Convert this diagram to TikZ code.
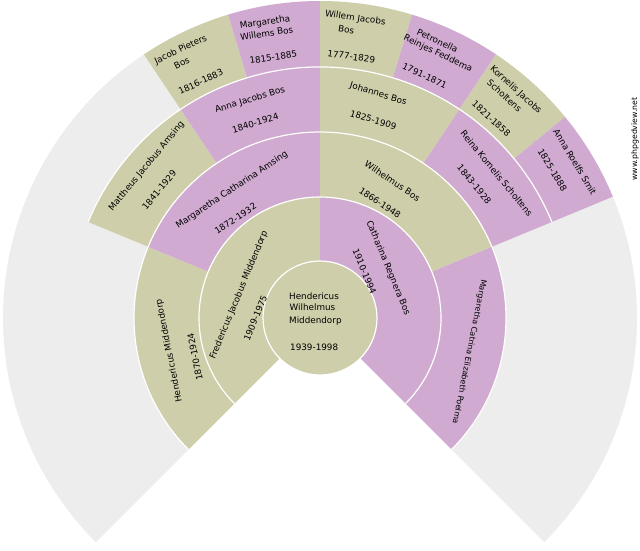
\documentclass[tikz,border=0pt]{standalone}
\usepackage{fontspec}
\setmainfont{DejaVu Sans}
\definecolor{fanolive}{RGB}{206,206,170}
\definecolor{fanpurple}{RGB}{208,170,208}
\definecolor{fangray}{RGB}{237,237,237}
\newcommand\fanseg[5]{%
  \fill[#5] (#3:#1pt) -- (#3:#2pt) arc[start angle=#3, end angle=#4, radius=#2pt]
    -- (#4:#1pt) arc[start angle=#4, end angle=#3, radius=#1pt] -- cycle;}
\tikzset{
  lbl/.style={inner sep=0pt, font=\fontsize{8.8}{10}\selectfont},
  lblsmall/.style={inner sep=0pt, font=\fontsize{7.9}{9}\selectfont},
  cline/.style={inner sep=0pt, anchor=base west, font=\fontsize{8.8}{10}\selectfont},
  sep/.style={draw=white, line width=1.2pt},
  wm/.style={inner sep=0pt, font=\fontsize{7.8}{9}\selectfont, rotate=90}
}
\begin{document}
\begin{tikzpicture}[x=1pt,y=1pt]
\useasboundingbox (0,0) rectangle (640,550);
\fill[white] (0,0) rectangle (640,550);
\begin{scope}[shift={(320,232)}]
  % gray (unknown ancestors)
  \fanseg{186}{317}{157.5}{225}{fangray}
  \fanseg{251}{317}{123.75}{157.5}{fangray}
  \fanseg{186}{317}{-45}{22.5}{fangray}
  % generation 4
  \fanseg{251}{317}{106.875}{123.75}{fanolive}
  \fanseg{251}{317}{90}{106.875}{fanpurple}
  \fanseg{251}{317}{73.125}{90}{fanolive}
  \fanseg{251}{317}{56.25}{73.125}{fanpurple}
  \fanseg{251}{317}{39.375}{56.25}{fanolive}
  \fanseg{251}{317}{22.5}{39.375}{fanpurple}
  % generation 3
  \fanseg{186}{251}{123.75}{157.5}{fanolive}
  \fanseg{186}{251}{90}{123.75}{fanpurple}
  \fanseg{186}{251}{56.25}{90}{fanolive}
  \fanseg{186}{251}{22.5}{56.25}{fanpurple}
  % generation 2
  \fanseg{121}{186}{157.5}{225}{fanolive}
  \fanseg{121}{186}{90}{157.5}{fanpurple}
  \fanseg{121}{186}{22.5}{90}{fanolive}
  \fanseg{121}{186}{-45}{22.5}{fanpurple}
  % generation 1
  \fanseg{57}{121}{90}{225}{fanolive}
  \fanseg{57}{121}{-45}{90}{fanpurple}
  % separators
  \draw[sep] (22.5:251pt) arc[start angle=22.5, end angle=157.5, radius=251pt];
  \draw[sep] (-45:186pt) arc[start angle=-45, end angle=225, radius=186pt];
  \draw[sep] (-45:121pt) arc[start angle=-45, end angle=225, radius=121pt];
  % centre
  \fill[fanolive] (0,0) circle[radius=57pt];
  \draw[sep] (0,0) circle[radius=57pt];
\end{scope}
% centre person
\node[cline] (c1) at (289,251) {Hendericus};
\node[cline] (c2) at (289.5,239.3) {Wilhelmus};
\node[cline] (c3) at (289,226.3) {Middendorp};
\node[cline] (c4) at (290,200) {1939-1998};
% generation 1
\node[lbl, rotate=67.5] (f1) at (239,255) {Fredericus Jacobus Middendorp};
\node[lbl, rotate=67.5] (f1d) at (255.5,232) {1909-1975};
\node[lbl, rotate=-67.5] (m1) at (388,282) {Catharina Regnera Bos};
\node[lbl, rotate=-67.5] (m1d) at (364.5,278.5) {1910-1994};
% generation 2
\node[lbl, rotate=101.25] (ff) at (169.2,199.2) {Hendericus Middendorp};
\node[lbl, rotate=101.25] (ffd) at (195,193.3) {1870-1924};
\node[lbl, rotate=33.75] (fm) at (232,360) {Margaretha Catharina Amsing};
\node[lbl, rotate=33.75] (fmd) at (235.5,331.5) {1872-1932};
\node[lbl, rotate=-33.75] (mf) at (392.5,369) {Wilhelmus Bos};
\node[lbl, rotate=-33.75] (mfd) at (380,347) {1866-1948};
\node[lblsmall, rotate=-101.25] (mm) at (469.2,198.3) {Margaretha Catrina Elizabeth Poelma};
% generation 3
\node[lbl, rotate=50.625] (fmf) at (146.7,383.7) {Mattheus Jacobus Amsing};
\node[lbl, rotate=50.625] (fmfd) at (159.2,360) {1841-1929};
\node[lbl, rotate=16.875] (fmm) at (250,450) {Anna Jacobs Bos};
\node[lbl, rotate=16.875] (fmmd) at (255.3,427) {1840-1924};
\node[lbl, rotate=-16.875] (mff) at (378.3,456) {Johannes Bos};
\node[lbl, rotate=-16.875] (mffd) at (373.3,430) {1825-1909};
\node[lbl, rotate=-50.625] (mfm) at (496.7,376.7) {Reina Kornelis Scholtens};
\node[lbl, rotate=-50.625] (mfmd) at (474.2,365.8) {1843-1928};
% generation 4
\node[lbl, rotate=25.3125] (a1) at (180.8,500) {Jacob Pieters};
\node[lbl, rotate=25.3125] (a1b) at (181.7,487.2) {Bos};
\node[lbl, rotate=25.3125] (a1d) at (200.8,468.3) {1816-1883};
\node[lbl, rotate=8.4375] (a2) at (265,527.3) {Margaretha};
\node[lbl, rotate=8.4375] (a2b) at (266.7,516.7) {Willems Bos};
\node[lbl, rotate=8.4375] (a2d) at (273.3,492.7) {1815-1885};
\node[lbl, rotate=-8.4375] (a3) at (355.3,531.7) {Willem Jacobs};
\node[lbl, rotate=-8.4375] (a3b) at (346.3,520.3) {Bos};
\node[lbl, rotate=-8.4375] (a3d) at (351.3,493.3) {1777-1829};
\node[lbl, rotate=-25.3125] (a4) at (437.5,509.2) {Petronella};
\node[lbl, rotate=-25.3125] (a4b) at (438,496.2) {Reinjes Feddema};
\node[lbl, rotate=-25.3125] (a4d) at (424.7,474.2) {1791-1871};
\node[lbl, rotate=-42.1875] (a5) at (515.8,460) {Kornelis Jacobs};
\node[lbl, rotate=-42.1875] (a5b) at (504.5,454.2) {Scholtens};
\node[lbl, rotate=-42.1875] (a5d) at (491.3,431.3) {1821-1858};
\node[lbl, rotate=-59.0625] (a6) at (575,388.3) {Anna Roelfs Smit};
\node[lbl, rotate=-59.0625] (a6d) at (552.5,380) {1825-1888};
% watermark
\node[wm] (wmk) at (635,411) {www.phpgedview.net};
\end{tikzpicture}
\end{document}
